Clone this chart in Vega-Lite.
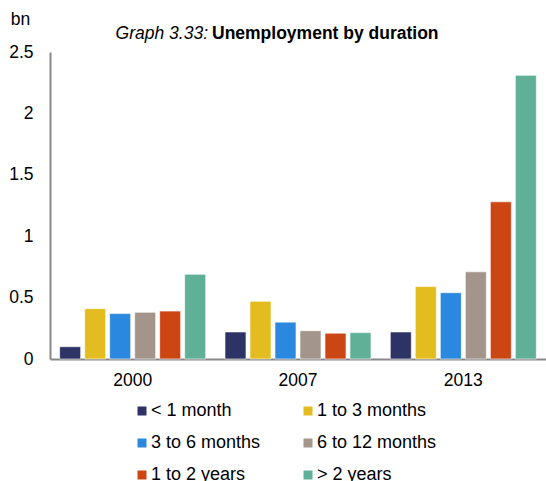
{
  "$schema": "https://vega.github.io/schema/vega-lite/v6.json",
  "width": 496,
  "height": 307,
  "autosize": {"type": "none"},
  "padding": {"left": 50, "top": 52, "right": 0, "bottom": 122},
  "background": "white",
  "config": {
    "font": "Liberation Sans",
    "view": {"stroke": null}
  },
  "layer": [
    {
      "data": {
        "values": [
          {"year": "2000", "duration": "< 1 month", "value": 0.10},
          {"year": "2000", "duration": "1 to 3 months", "value": 0.41},
          {"year": "2000", "duration": "3 to 6 months", "value": 0.37},
          {"year": "2000", "duration": "6 to 12 months", "value": 0.38},
          {"year": "2000", "duration": "1 to 2 years", "value": 0.39},
          {"year": "2000", "duration": "> 2 years", "value": 0.69},
          {"year": "2007", "duration": "< 1 month", "value": 0.22},
          {"year": "2007", "duration": "1 to 3 months", "value": 0.47},
          {"year": "2007", "duration": "3 to 6 months", "value": 0.30},
          {"year": "2007", "duration": "6 to 12 months", "value": 0.23},
          {"year": "2007", "duration": "1 to 2 years", "value": 0.21},
          {"year": "2007", "duration": "> 2 years", "value": 0.215},
          {"year": "2013", "duration": "< 1 month", "value": 0.22},
          {"year": "2013", "duration": "1 to 3 months", "value": 0.59},
          {"year": "2013", "duration": "3 to 6 months", "value": 0.54},
          {"year": "2013", "duration": "6 to 12 months", "value": 0.71},
          {"year": "2013", "duration": "1 to 2 years", "value": 1.28},
          {"year": "2013", "duration": "> 2 years", "value": 2.31}
        ]
      },
      "mark": {"type": "bar", "stroke": "#ffffff", "strokeWidth": 0.6},
      "encoding": {
        "x": {
          "field": "year",
          "type": "nominal",
          "sort": ["2000", "2007", "2013"],
          "scale": {"paddingInner": 0, "paddingOuter": 0},
          "axis": {
            "title": null,
            "labelAngle": 0,
            "labelFontSize": 17.5,
            "labelColor": "#000000",
            "labelPadding": 12,
            "ticks": false,
            "domainColor": "#888888",
            "domainWidth": 2
          }
        },
        "xOffset": {
          "field": "duration",
          "type": "nominal",
          "sort": ["< 1 month", "1 to 3 months", "3 to 6 months", "6 to 12 months", "1 to 2 years", "> 2 years"],
          "scale": {"paddingInner": 0.16, "paddingOuter": 0.386}
        },
        "y": {
          "field": "value",
          "type": "quantitative",
          "scale": {"domain": [0, 2.5], "nice": false},
          "axis": {
            "values": [0, 0.5, 1, 1.5, 2, 2.5],
            "format": "~g",
            "title": "bn",
            "titleAngle": 0,
            "titleFontSize": 17.5,
            "titleFontWeight": "normal",
            "titleColor": "#000000",
            "titleAlign": "center",
            "titleBaseline": "alphabetic",
            "titleX": -30,
            "titleY": -28,
            "labelFontSize": 17.5,
            "labelColor": "#000000",
            "labelPadding": 17,
            "ticks": false,
            "grid": false,
            "domainColor": "#888888",
            "domainWidth": 2
          }
        },
        "color": {
          "field": "duration",
          "type": "nominal",
          "sort": ["< 1 month", "1 to 3 months", "3 to 6 months", "6 to 12 months", "1 to 2 years", "> 2 years"],
          "scale": {
            "domain": ["< 1 month", "1 to 3 months", "3 to 6 months", "6 to 12 months", "1 to 2 years", "> 2 years"],
            "range": ["#2E3366", "#E3BD1F", "#2A88DE", "#A3958C", "#CC4614", "#60B097"]
          },
          "legend": {
            "title": null,
            "orient": "none",
            "legendX": 83,
            "legendY": 350,
            "direction": "horizontal",
            "columns": 2,
            "columnPadding": 38,
            "rowPadding": 14,
            "padding": 0,
            "symbolType": "square",
            "symbolSize": 81,
            "symbolStrokeWidth": 0,
            "labelFontSize": 18,
            "labelColor": "#000000",
            "labelOffset": 0,
            "labelLimit": 300
          }
        }
      }
    },
    {
      "data": {"values": [{"label": "Graph 3.33:"}]},
      "mark": {
        "type": "text",
        "align": "right",
        "baseline": "alphabetic",
        "dx": -90,
        "fontSize": 17.5,
        "fontStyle": "italic",
        "color": "#000000"
      },
      "encoding": {
        "x": {"datum": "2007"},
        "y": {"datum": 2.606},
        "text": {"field": "label"}
      }
    },
    {
      "data": {"values": [{"label": "Unemployment by duration"}]},
      "mark": {
        "type": "text",
        "align": "left",
        "baseline": "alphabetic",
        "dx": -86,
        "fontSize": 17.5,
        "fontWeight": "bold",
        "color": "#000000"
      },
      "encoding": {
        "x": {"datum": "2007"},
        "y": {"datum": 2.606},
        "text": {"field": "label"}
      }
    }
  ]
}
